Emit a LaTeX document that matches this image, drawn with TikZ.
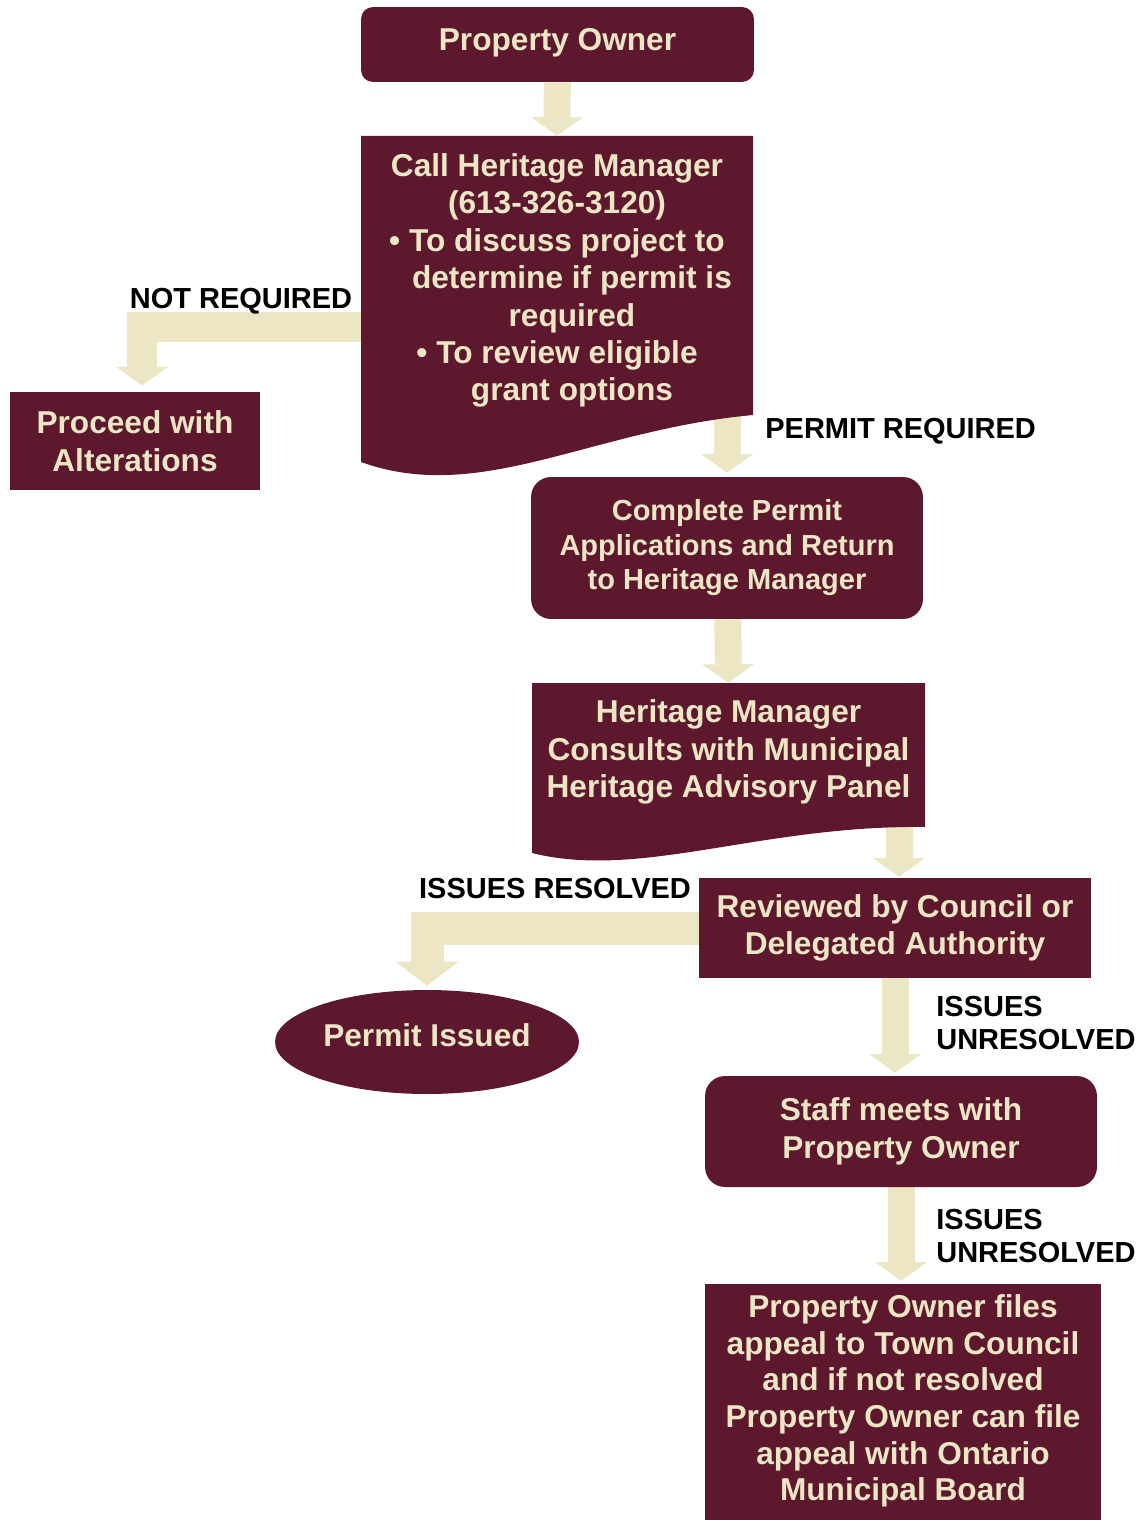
\documentclass[tikz,border=0pt]{standalone}
\usepackage{fontspec}
\setmainfont{Liberation Sans}
\usetikzlibrary{shapes.geometric,arrows.meta,backgrounds}
\definecolor{wine}{RGB}{94,24,46}
\definecolor{cream}{RGB}{236,230,196}
\tikzset{
  box/.style={fill=wine, text=cream, font=\bfseries\fontsize{18}{21.3}\selectfont, align=center, inner sep=0pt},
  roundbox/.style={box, rounded corners=0.4cm},
  textonly/.style={text=cream, font=\bfseries\fontsize{18}{21.3}\selectfont, align=center, inner sep=0pt},
  tag/.style={font=\bfseries\fontsize{16.5}{18.7}\selectfont, inner sep=0pt, align=left},
  flow/.style={draw=cream, line width=0.54cm, -{Triangle[width=1.04cm,length=0.37cm,line width=0pt]}},
  bentflow/.style={draw=cream, line width=0.62cm, -{Triangle[width=1.04cm,length=0.38cm,line width=0pt]}},
  wideflow/.style={draw=cream, line width=0.66cm, -{Triangle[width=1.26cm,length=0.48cm,line width=0pt]}}
}
\begin{document}
\begin{tikzpicture}[x=0.02cm, y=-0.02cm]
\useasboundingbox (0,0) rectangle (1145,1520);
% wavy document boxes
\fill[wine] (361,136) -- (753,136) -- (753,415) .. controls (590,430) and (480,505) .. (361,462) -- cycle;
\fill[wine] (532,683) -- (925,683) -- (925,827) .. controls (760,825) and (640,880) .. (532,853) -- cycle;
% steps
\node[roundbox, rounded corners=0.24cm, text depth=0.21cm, minimum width=7.86cm, minimum height=1.5cm] (owner) at (557.5,44.5) {Property Owner};
\node[textonly, minimum width=7.84cm, minimum height=5.78cm] (call) at (557,280.5) {Call Heritage Manager\\
  (613-326-3120)\\
  \textbullet{} To discuss project to\\
  \hspace*{17pt}determine if permit is\\
  \hspace*{17pt}required\\
  \textbullet{} To review eligible\\
  \hspace*{17pt}grant options};
\node[box, minimum width=5cm, minimum height=1.96cm] (proceed) at (135,441) {Proceed with\\Alterations};
\node[roundbox, font=\bfseries\fontsize{16.5}{19.6}\selectfont, minimum width=7.84cm, minimum height=2.84cm] (complete) at (727,548) {Complete Permit\\Applications and Return\\to Heritage Manager};
\node[textonly, minimum width=7.86cm, minimum height=2.76cm] (consult) at (728.5,752) {Heritage Manager\\Consults with Municipal\\Heritage Advisory Panel};
\node[box, minimum width=7.84cm, minimum height=2cm] (reviewed) at (895,928) {Reviewed by Council or\\Delegated Authority};
\node[box, ellipse, text depth=0.28cm, minimum width=6.08cm, minimum height=2.08cm] (issued) at (427,1042) {Permit Issued};
\node[roundbox, minimum width=7.84cm, minimum height=2.22cm] (staff) at (901,1131.5) {Staff meets with\\Property Owner};
\fill[wine] (705,1400) rectangle (1101,1530);
\node[box, font=\bfseries\fontsize{18}{20.9}\selectfont, minimum width=7.92cm, minimum height=4.68cm] (final) at (903,1401) {Property Owner files\\appeal to Town Council\\and if not resolved\\Property Owner can file\\appeal with Ontario\\Municipal Board};
% labels
\node[tag] (notreq) at (241,301) {NOT REQUIRED};
\node[tag, anchor=west] (permreq) at (765,431) {PERMIT REQUIRED};
\node[tag] (resolved) at (555,889) {ISSUES RESOLVED};
\node[tag, anchor=west] (unresA) at (936,1023) {ISSUES\\UNRESOLVED};
\node[tag, anchor=west] (unresB) at (936,1236) {ISSUES\\UNRESOLVED};
% block arrows
\begin{scope}[on background layer]
\draw[flow] (owner) -- (call.north);
\coordinate (nrbend) at (142,327);
\draw[bentflow, shorten >=0.12cm] (call) |- (nrbend) -- (nrbend |- proceed.north);
\draw[flow, shorten >=0.08cm] (complete.north |- call) -- (complete.north);
\draw[flow] (complete) -- (consult.north);
\draw[flow, shorten >=0.02cm] ([xshift=0.08cm]reviewed.north |- consult) -- ([xshift=0.08cm]reviewed.north);
\draw[flow, shorten >=0.06cm] (reviewed) -- (reviewed |- staff.north);
\draw[flow, shorten >=0.06cm] (staff) -- (staff |- final.north);
\draw[wideflow, shorten >=0.08cm] (reviewed) -| (issued.north);
\end{scope}
\end{tikzpicture}
\end{document}
